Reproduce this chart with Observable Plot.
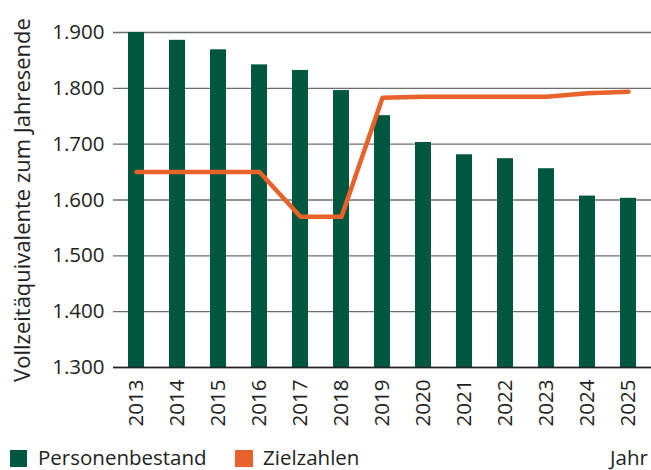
<!DOCTYPE html>
<html><head><meta charset="utf-8">
<script src="https://cdn.jsdelivr.net/npm/d3@7"></script>
<script src="https://cdn.jsdelivr.net/npm/@observablehq/plot@0.6"></script>
<style>
body{margin:0;background:#fff;font-family:"Open Sans",sans-serif;}
#chart svg{display:block;}
#legend{display:block;}
</style></head><body>
<div id="chart"></div>
<svg id="legend" width="651" height="30" font-family="Open Sans" font-size="20.5" fill="#222"></svg>
<script>
const years = ["2013","2014","2015","2016","2017","2018","2019","2020","2021","2022","2023","2024","2025"];
const personenbestand = [1900,1886,1869,1842,1832,1796,1751,1703,1681,1674,1656,1607,1603];
const zielzahlen = [1650,1650,1650,1650,1570,1570,1783,1785,1785,1785,1785,1791,1794];
const yTicks = [1300,1400,1500,1600,1700,1800,1900];
const tickLabels = ["1.300","1.400","1.500","1.600","1.700","1.800","1.900"];
const yLabel = "Vollzeitäquivalente zum Jahresende";
const legendItems = ["Personenbestand","Zielzahlen"];
const xLabel = "Jahr";
const green = "#00573f", orange = "#e8622b";

const data = years.map((y,i)=>({year:y, p:personenbestand[i], z:zielzahlen[i]}));

const chart = Plot.plot({
  width:651, height:440, marginLeft:113, marginRight:0, marginTop:32, marginBottom:73,
  style:{fontFamily:"Open Sans", fontSize:"20px", color:"#222", background:"white", overflow:"visible"},
  x:{type:"band", domain:years, paddingInner:0.61, paddingOuter:0.31, align:0.5, axis:null},
  y:{domain:[1300,1900], axis:null},
  marks:[
    Plot.gridY(yTicks, {stroke:"#6e6e6e", strokeOpacity:1, strokeWidth:1.3}),
    Plot.axisY(yTicks, {tickSize:0, tickPadding:9, tickFormat:d=>tickLabels[yTicks.indexOf(d)], label:null, fontSize:20.5}),
    Plot.axisX(years, {tickSize:0, tickPadding:12, tickRotate:-90, label:null, fontSize:20.5}),
    Plot.text([yLabel], {frameAnchor:"left", textAnchor:"middle", lineAnchor:"middle", rotate:-90, dx:-91, fontSize:22, fill:"#222"}),
    Plot.barY(data,{x:"year", y1:1300, y2:"p", fill:green}),
    Plot.ruleY([1300],{stroke:"#222", strokeWidth:1.5}),
    Plot.lineY(data,{x:"year", y:"z", stroke:orange, strokeWidth:4.5, strokeLinejoin:"round", strokeLinecap:"round"})
  ]
});
document.getElementById("chart").appendChild(chart);

const lg = d3.select("#legend");
lg.append("rect").attr("x",10).attr("y",10).attr("width",17).attr("height",17).attr("fill",green);
lg.append("text").attr("x",38).attr("y",24.5).text(legendItems[0]);
lg.append("rect").attr("x",235).attr("y",10).attr("width",18).attr("height",17).attr("fill",orange);
lg.append("text").attr("x",263).attr("y",24.5).text(legendItems[1]);
lg.append("text").attr("x",610).attr("y",24.5).text(xLabel);
</script>
</body></html>
